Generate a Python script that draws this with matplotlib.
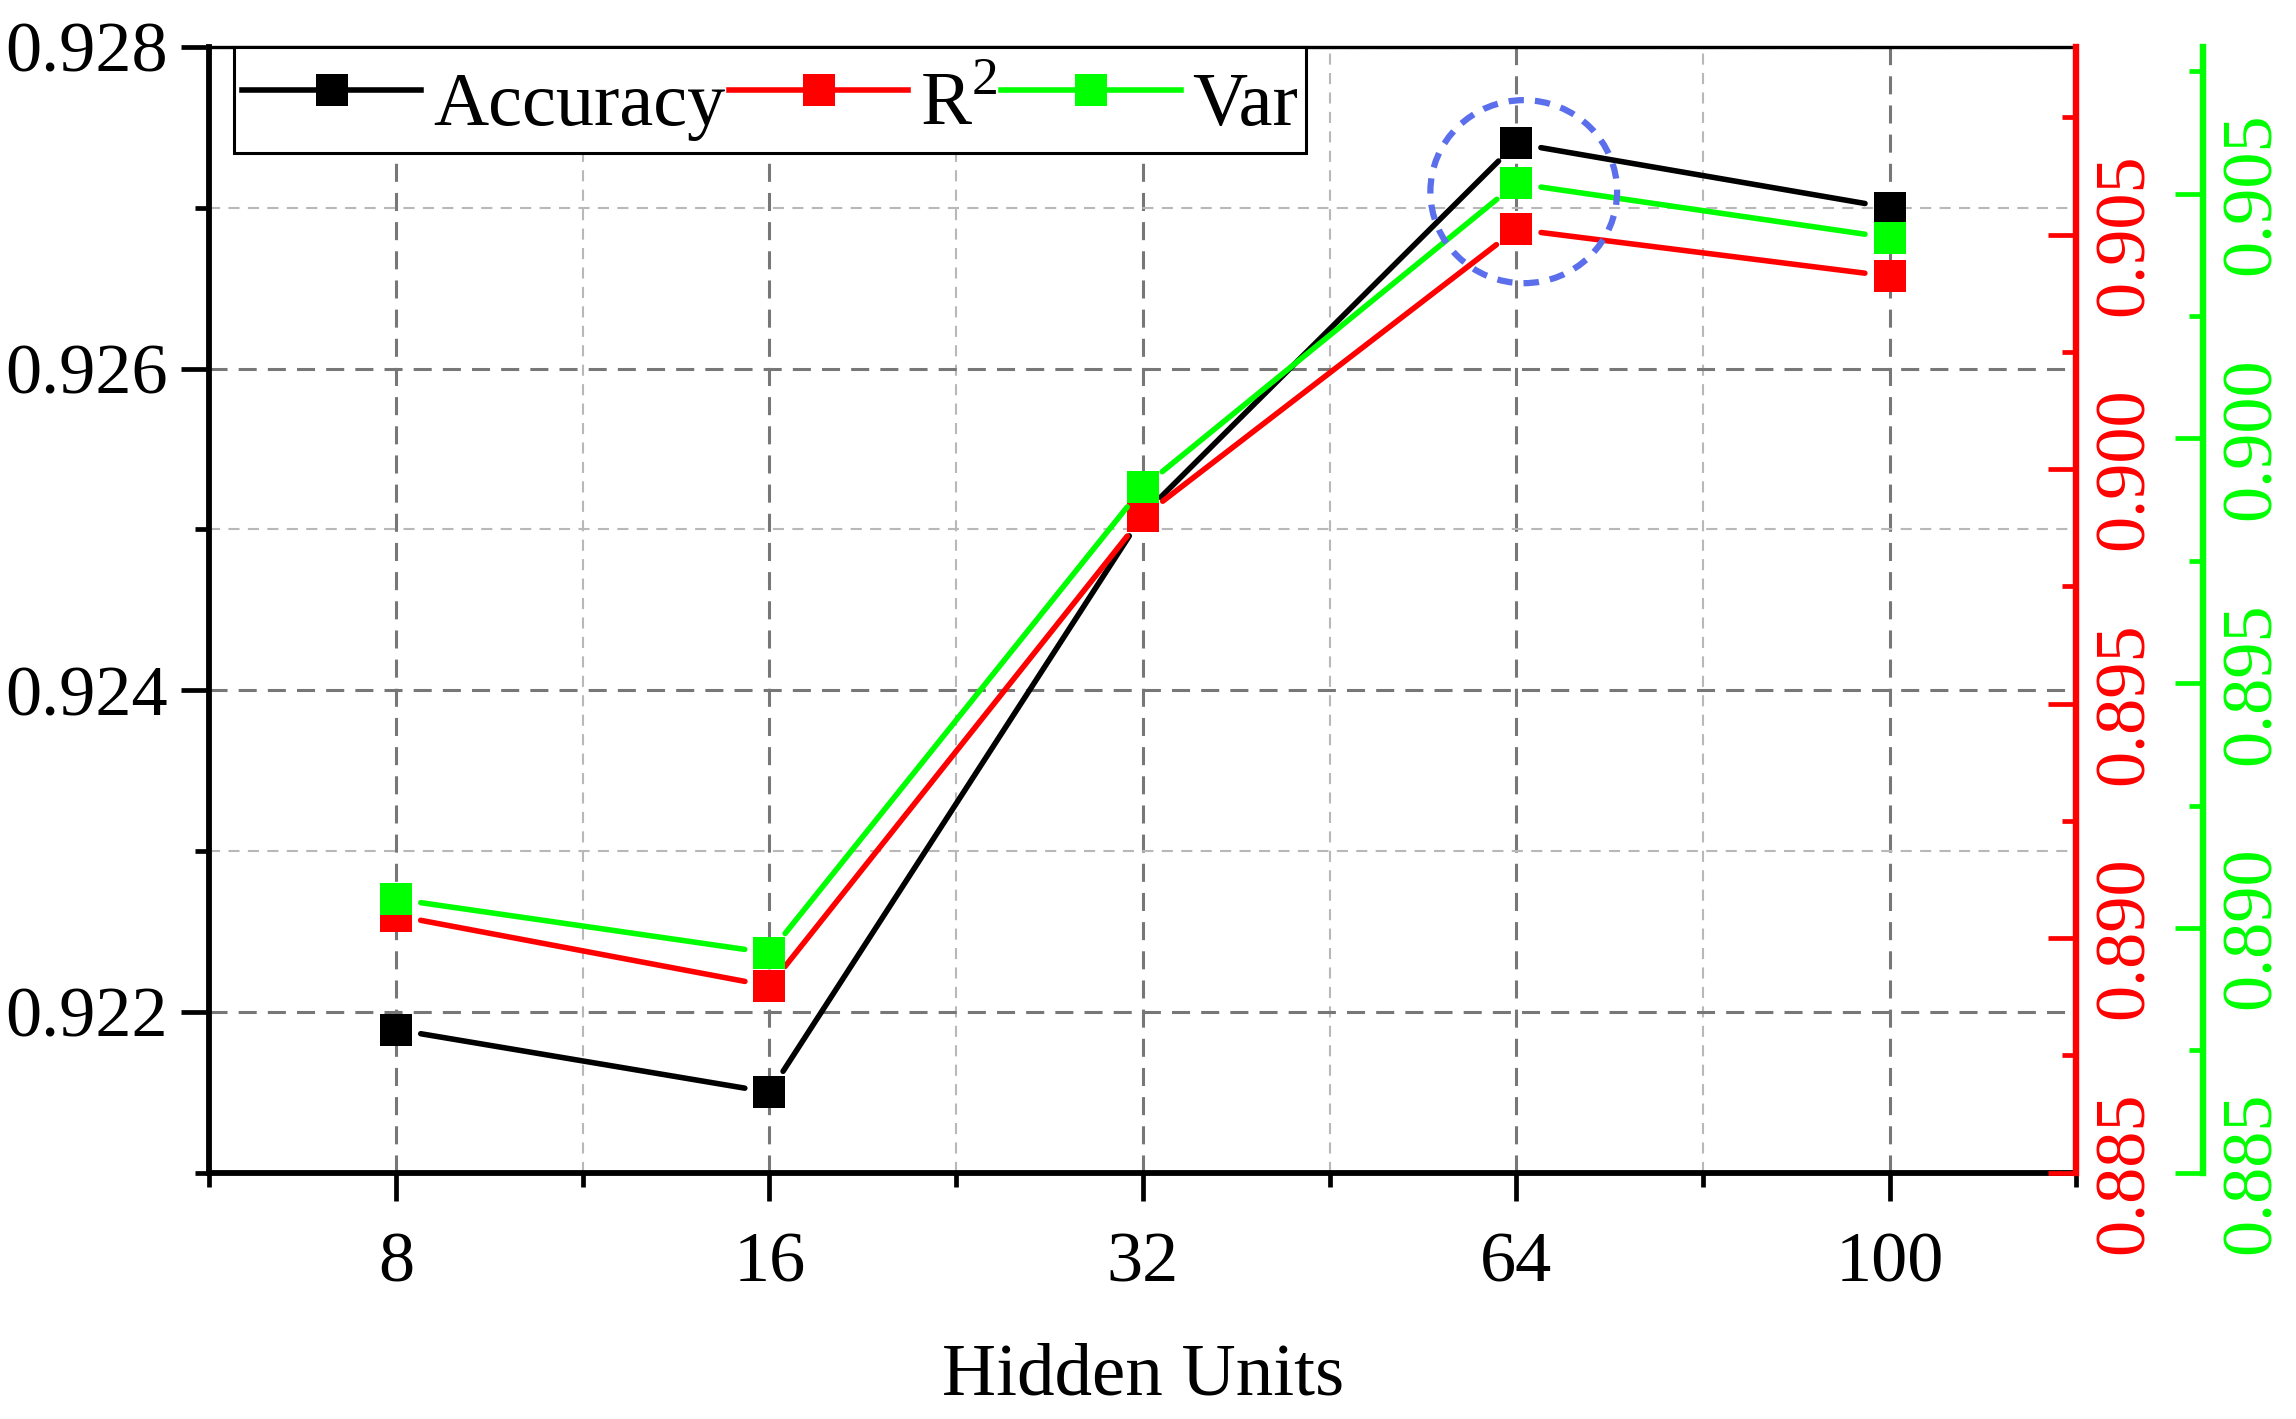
import matplotlib
matplotlib.use("Agg")
import matplotlib.pyplot as plt
import numpy as np
from matplotlib.ticker import MultipleLocator, FormatStrFormatter, FixedLocator
from matplotlib.lines import Line2D
from matplotlib.patches import Ellipse

plt.rcParams['font.family'] = ['Liberation Serif', 'DejaVu Serif']
plt.rcParams['mathtext.fontset'] = 'custom'
plt.rcParams['mathtext.rm'] = 'Liberation Serif'
plt.rcParams['lines.scale_dashes'] = False

# ---- data ----
hidden_units = ['8', '16', '32', '64', '100']
accuracy = [0.92189, 0.92150, 0.92509, 0.92740, 0.92700]
r2 = [0.89048, 0.88898, 0.89899, 0.90511, 0.90411]
var = [0.89059, 0.88949, 0.89900, 0.90521, 0.90410]

acc_ticks = [0.922, 0.924, 0.926, 0.928]
right_ticks = [0.885, 0.890, 0.895, 0.900, 0.905]

RED = '#FF0000'
GREEN = '#00FF00'
BLACK = '#000000'

DPI = 100
fig = plt.figure(figsize=(22.96, 14.19), dpi=DPI)
L, R, T, B = 143/1568, 1418/1568, 1 - 32/968, 1 - 800/968
ax = fig.add_axes([L, B, R - L, T - B])
ax2 = ax.twinx()
ax3 = ax.twinx()
ax3.spines['right'].set_position(('axes', 1.068))

x = np.arange(len(hidden_units))
ax.set_xlim(-0.5, len(hidden_units) - 0.5)
ax.set_ylim(0.921, 0.928)
ax2.set_ylim(0.885, 0.909)
ax3.set_ylim(0.885, 0.908)

FS = 52
# left axis
ax.yaxis.set_major_locator(FixedLocator(acc_ticks))
ax.yaxis.set_minor_locator(MultipleLocator(0.001))
ax.yaxis.set_major_formatter(FormatStrFormatter('%.3f'))
ax.set_xticks(x)
ax.set_xticklabels(hidden_units)
ax.xaxis.set_minor_locator(FixedLocator(np.arange(-0.5, len(hidden_units), 1.0)))
ax.tick_params(axis='both', which='major', direction='out', length=20, width=3.4,
               labelsize=FS, color=BLACK)
ax.tick_params(axis='both', which='minor', direction='out', length=10, width=3.4, color=BLACK)
ax.tick_params(axis='y', which='major', pad=10)
ax.tick_params(axis='x', which='major', pad=22)
ax.tick_params(right=False, top=False, which='both')

for sp in ['left', 'bottom']:
    ax.spines[sp].set_linewidth(4.2)
ax.spines['top'].set_linewidth(2.4)
ax.spines['right'].set_visible(False)

# grids
ax.grid(which='major', axis='both', color='#777777', linewidth=2.2,
        linestyle=(0, (13, 8)))
ax.grid(which='minor', axis='both', color='#b8b8b8', linewidth=1.5,
        linestyle=(0, (8, 6)))
ax.set_axisbelow(True)

ax.set_xlabel('Hidden Units', fontsize=54, labelpad=34)

# right axes
for a, col in [(ax2, RED), (ax3, GREEN)]:
    for sp in ['left', 'top', 'bottom']:
        a.spines[sp].set_visible(False)
    a.spines['right'].set_color(col)
    a.spines['right'].set_linewidth(4.6)
    a.yaxis.set_major_locator(FixedLocator(right_ticks))
    a.yaxis.set_minor_locator(MultipleLocator(0.0025))
    a.yaxis.set_major_formatter(FormatStrFormatter('%.3f'))
    a.tick_params(axis='y', which='major', direction='in', length=20, width=3.4,
                  color=col, labelcolor=col, labelsize=FS, pad=12)
    a.tick_params(axis='y', which='minor', direction='in', length=10, width=3.4, color=col)
    for lab in a.get_yticklabels():
        lab.set_rotation(90)
        lab.set_va('center')
        lab.set_ha('left')


LW = 4.0
MS = 23


def gapped_line(a, xs, ys, color, gap_px=25, lw=LW):
    tr = a.transData
    pts = tr.transform(np.column_stack([xs, ys]))
    for p0, p1 in zip(pts[:-1], pts[1:]):
        d = p1 - p0
        u = d / np.hypot(*d)
        seg = np.array([p0 + u * gap_px, p1 - u * gap_px])
        back = tr.inverted().transform(seg)
        a.plot(back[:, 0], back[:, 1], color=color, lw=lw, solid_capstyle='round')
    a.plot(xs, ys, linestyle='none', marker='s', ms=MS, color=color, mec=color, mew=0)


gapped_line(ax, x, accuracy, BLACK)
gapped_line(ax2, x, r2, RED)
gapped_line(ax3, x, var, GREEN)

# highlight circle around the 64 point
ell = Ellipse((3.02, 0.92710), width=0.50, height=0.001138, transform=ax.transData,
              fill=False, edgecolor='#5B6EEB', linewidth=4.5, linestyle=(0, (11, 8)),
              clip_on=False, zorder=10)
ax3.add_patch(ell)

# legend
handles = [Line2D([], [], color=c, lw=LW, marker='s', ms=MS, mew=0)
           for c in (BLACK, RED, GREEN)]
leg = ax3.legend(handles, ['Accuracy', 'R$^2$', 'Var'], loc='upper left',
                 bbox_to_anchor=(0.0133, 1.0), borderaxespad=0, ncol=3,
                 fontsize=55, handlelength=2.35, handleheight=1.45,
                 handletextpad=0.15, columnspacing=0.05, borderpad=0.1,
                 frameon=True, fancybox=False, framealpha=1, edgecolor=BLACK)
leg.get_frame().set_linewidth(2.2)
leg.set_zorder(20)

fig.savefig('out.png', dpi=DPI)
